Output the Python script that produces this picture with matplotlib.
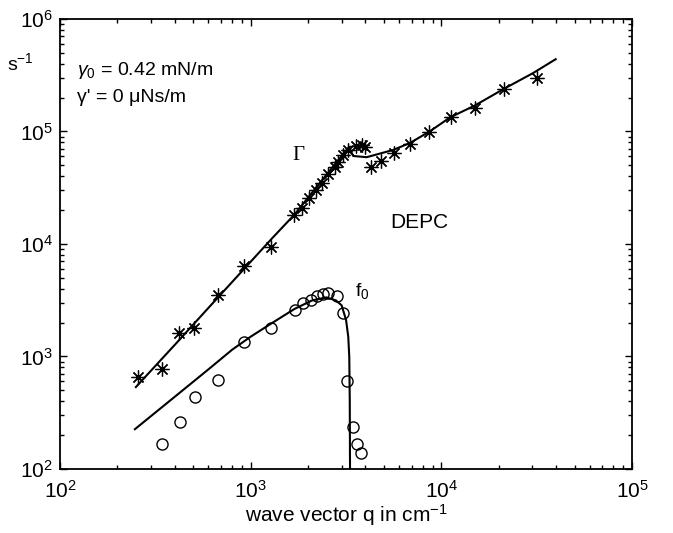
import numpy as np
import matplotlib
matplotlib.use("Agg")
import matplotlib.pyplot as plt
from matplotlib.ticker import LogLocator, NullFormatter

plt.rcParams['font.family'] = ['Liberation Sans', 'DejaVu Sans']
plt.rcParams['mathtext.fontset'] = 'custom'
plt.rcParams['mathtext.rm'] = 'Liberation Sans'
plt.rcParams['mathtext.it'] = 'Liberation Sans:italic'
plt.rcParams['mathtext.sf'] = 'Liberation Sans'

# measured damping Gamma (stars)
gamma_q = [256, 341, 423, 506, 676, 927, 1273, 1694, 1853, 2030, 2201, 2357,
           2553, 2768, 2882, 3063, 3252, 3567, 3820, 3980, 4260, 4830, 5665,
           6850, 8650, 11250, 15000, 21400, 31600]
gamma_f = [661, 770, 1607, 1804, 3524, 6370, 9350, 18100, 20700, 25500, 30200,
           35100, 41900, 48600, 54000, 61800, 68500, 74300, 75900, 72300,
           48100, 54700, 63900, 77400, 99600, 133700, 160800, 237000, 297000]

# fitted Gamma curve
gamma_fit_q = [250, 400, 600, 900, 1300, 1700, 2100, 2600, 3000, 3280, 3450,
               4060, 5600, 6850, 8700, 11100, 15000, 21400, 30300, 39800]
gamma_fit_f = [535, 1270, 2700, 5720, 11300, 18300, 28600, 44800, 60400, 72800,
               60500, 59000, 68500, 79000, 100000, 133000, 170000, 240000,
               330000, 438000]

# measured frequency f0 (circles)
f0_q = [341, 426, 510, 676, 927, 1280, 1706, 1888, 2064, 2221, 2387, 2555,
        2847, 3063, 3187, 3450, 3625, 3790]
f0_f = [166, 263, 440, 618, 1355, 1782, 2590, 2970, 3180, 3450, 3570, 3650,
        3450, 2420, 610, 238, 167, 138]

# fitted f0 curve
f0_fit_q = [247, 400, 600, 800, 1000, 1280, 1700, 2100, 2500, 2800, 3000, 3165,
            3250, 3290, 3310, 3320]
f0_fit_f = [226, 439, 768, 1150, 1500, 1960, 2650, 3150, 3350, 3150, 2850, 2110,
            1500, 995, 400, 100]

fig = plt.figure(figsize=(6.73, 5.33), dpi=100)
ax = fig.add_axes([0.0892, 0.120, 0.8498, 0.8446])

ax.plot(gamma_fit_q, gamma_fit_f, color='black', lw=1.5)
ax.plot(gamma_q, gamma_f, linestyle='none', marker=(8, 2, 0), markersize=10,
        color='black', mew=0.9)
ax.plot(f0_fit_q, f0_fit_f, color='black', lw=1.5)
ax.plot(f0_q, f0_f, linestyle='none', marker='o', markersize=8,
        mfc='none', mec='black', mew=1.0)

ax.set_xscale('log')
ax.set_yscale('log')
ax.set_xlim(1e2, 1e5)
ax.set_ylim(1e2, 1e6)

ax.xaxis.set_major_locator(LogLocator(base=10, numticks=10))
ax.yaxis.set_major_locator(LogLocator(base=10, numticks=10))
ax.xaxis.set_minor_locator(LogLocator(base=10, subs=np.arange(2, 10), numticks=10))
ax.yaxis.set_minor_locator(LogLocator(base=10, subs=np.arange(2, 10), numticks=10))
ax.xaxis.set_minor_formatter(NullFormatter())
ax.yaxis.set_minor_formatter(NullFormatter())

ax.tick_params(which='both', direction='in', top=True, right=True,
               labelsize=15, width=1)
ax.tick_params(which='major', length=5)
ax.tick_params(axis='x', which='major', pad=8)
ax.tick_params(axis='y', which='major', pad=5)
ax.tick_params(which='minor', length=3)
for sp in ax.spines.values():
    sp.set_linewidth(1.3)

ax.set_xlabel('wave vector q in cm$^{-1}$', fontsize=15, labelpad=0)
ax.text(-0.07, 0.902, 's$^{-1}$', transform=ax.transAxes, fontsize=14,
        ha='center', va='center')

ax.text(0.03, 0.885, r'$\gamma_0$ = 0.42 mN/m', transform=ax.transAxes,
        fontsize=14, va='center')
ax.text(0.03, 0.826, "γ' = 0 μNs/m", transform=ax.transAxes,
        fontsize=14, va='center')

ax.text(1790, 60500, 'Γ', fontsize=15, family='Liberation Serif',
        ha='center', va='center')
ax.text(7640, 15400, 'DEPC', fontsize=15, ha='center', va='center')
ax.text(3840, 3820, 'f$_0$', fontsize=14, ha='center', va='center')

fig.savefig('out.png', dpi=100)
